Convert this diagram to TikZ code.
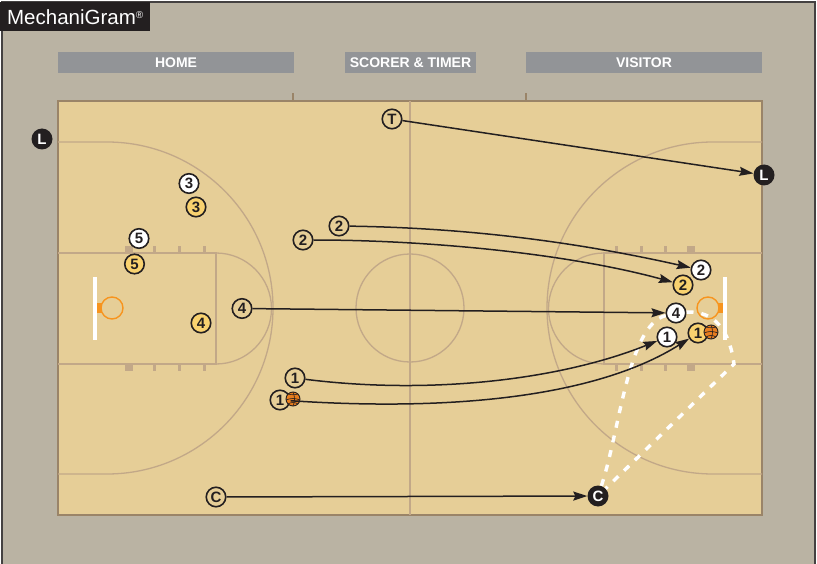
\documentclass[tikz,border=0pt]{standalone}
\usepackage{fontspec}
\setmainfont{Liberation Sans}
\usepackage{xcolor}
\usepackage{tikz}
\usetikzlibrary{arrows.meta}

\definecolor{surround}{HTML}{BAB3A3}
\definecolor{floorwood}{HTML}{E6CE97}
\definecolor{courtedge}{HTML}{9A8468}
\definecolor{courtline}{HTML}{C2A888}
\definecolor{headbar}{HTML}{929497}
\definecolor{rimorange}{HTML}{F7941E}
\definecolor{ballorange}{HTML}{E87D1E}
\definecolor{teamyellow}{HTML}{F9D26F}
\definecolor{inkdark}{HTML}{231F20}

\tikzset{
  playerbase/.style={circle, draw=inkdark, line width=1.6pt, inner sep=0pt, minimum size=19.5pt,
    text=inkdark, font=\fontsize{15}{15}\selectfont\bfseries},
  whiteplayer/.style={playerbase, fill=white},
  yellowplayer/.style={playerbase, fill=teamyellow},
  startplayer/.style={playerbase, fill=floorwood},
  official/.style={circle, fill=inkdark, inner sep=0pt, minimum size=21pt,
    text=white, font=\fontsize{15}{15}\selectfont\bfseries},
  headlabel/.style={fill=headbar, text=white, minimum height=21pt, inner sep=0pt,
    font=\fontsize{14}{14}\selectfont\bfseries},
  cline/.style={draw=courtline, line width=1.3pt},
  move/.style={draw=inkdark, line width=1.5pt, -{Stealth[length=14pt,width=9pt,inset=2pt]}},
  rotate path/.style={draw=white, line width=3.4pt, dash pattern=on 7pt off 8pt}
}

\begin{document}
\begin{tikzpicture}[x=1pt,y=-1pt]
  \useasboundingbox (0,0) rectangle (817,564);

  % surround and floor
  \draw[fill=surround, draw=inkdark!85, line width=1.2pt] (2,2) rectangle (815,570);
  \draw[fill=floorwood, draw=courtedge, line width=2.8pt] (58,101) rectangle (762,515);
  \draw[courtedge, line width=1.2pt] (293,93) -- (293,100);
  \draw[courtedge, line width=1.2pt] (526,93) -- (526,100);

  % logo and table labels
  \node[fill=inkdark, text=white, anchor=north west, minimum width=150pt, minimum height=29pt,
    inner sep=0pt, font=\fontsize{20.5}{20}\selectfont] (logo) at (0,2) {MechaniGram{\raisebox{6pt}{\fontsize{10}{10}\selectfont ®}}};
  \node[headlabel, minimum width=236pt] (home) at (176,62.5) {HOME};
  \node[headlabel, minimum width=131pt] (scorer) at (410.5,62.5) {SCORER \& TIMER};
  \node[headlabel, minimum width=236pt] (visitor) at (644,62.5) {VISITOR};

  % court lines
  \draw[cline] (410,101) -- (410,515);
  \draw[cline] (410,308) circle (54);
  \draw[cline] (58,253) -- (216,253) -- (216,364) -- (58,364);
  \draw[cline] (762,253) -- (604,253) -- (604,364) -- (762,364);
  \draw[cline] (216,253) arc (-90:90:55.5);
  \draw[cline] (604,253) arc (-90:-270:55.5);
  \draw[cline] (58,142) -- (107,142) arc (-90:90:166) -- (58,474);
  \draw[cline] (762,142) -- (713,142) arc (-90:-270:166) -- (762,474);

  % lane marks
  \foreach \x in {154,179,204,616.5,641,665.5}{
    \fill[courtline] (\x-1.5,246) rectangle (\x+1.5,253);
    \fill[courtline] (\x-1.5,364) rectangle (\x+1.5,371);
  }
  \foreach \x in {129,691}{
    \fill[courtline] (\x-4,246) rectangle (\x+4,253);
    \fill[courtline] (\x-4,364) rectangle (\x+4,371);
  }

  % baskets
  \fill[white] (93,277) rectangle (97,340);
  \fill[rimorange] (97,303) rectangle (102,313);
  \draw[rimorange, line width=1.4pt] (112,308) circle (11);
  \fill[white] (723,277) rectangle (727,340);
  \fill[rimorange] (718,303) rectangle (723,313);
  \draw[rimorange, line width=1.4pt] (708,308) circle (11);

  % officials
  \node[official] (leadstart) at (42,139) {L};
  \node[official] (leadend) at (764,175) {L};
  \node[official] (centerend) at (598,496) {C};
  \node[startplayer] (trail) at (392,119) {T};
  \node[startplayer] (centerstart) at (216,497) {C};

  % players
  \node[whiteplayer] (whitethree) at (189,183.5) {3};
  \node[yellowplayer] (yellowthree) at (196,207) {3};
  \node[whiteplayer] (whitefive) at (139,238.5) {5};
  \node[yellowplayer] (yellowfive) at (134.5,264) {5};
  \node[yellowplayer] (yellowfour) at (201,323) {4};
  \node[startplayer] (twoa) at (339,226) {2};
  \node[startplayer] (twob) at (303,240) {2};
  \node[startplayer] (fourstart) at (242,308.5) {4};
  \node[startplayer] (onea) at (295,378) {1};
  \node[startplayer] (oneb) at (280,400) {1};
  \node[whiteplayer] (whitetwo) at (701,270) {2};
  \node[yellowplayer] (yellowtwo) at (683,285) {2};
  \node[whiteplayer] (whitefour) at (676,313) {4};
  \node[whiteplayer] (whiteone) at (667,337) {1};
  \node[yellowplayer] (yellowone) at (698,333) {1};

  % balls
  \foreach \bx/\by in {293/399,711/332}{
    \draw[fill=ballorange, draw=inkdark, line width=0.9pt] (\bx,\by) circle (7);
    \draw[inkdark, line width=0.6pt] (\bx-7,\by+1) .. controls (\bx-2,\by-1) and (\bx+2,\by-1) .. (\bx+7,\by+1);
    \draw[inkdark, line width=0.6pt] (\bx-5,\by-5) .. controls (\bx-2,\by-4) and (\bx+2,\by-4) .. (\bx+5,\by-5);
    \draw[inkdark, line width=0.6pt] (\bx-5,\by+5) .. controls (\bx-2,\by+3) and (\bx+2,\by+3) .. (\bx+5,\by+5);
    \draw[inkdark, line width=0.6pt] (\bx,\by-7) .. controls (\bx+2,\by-3) and (\bx+2,\by+3) .. (\bx,\by+7);
  }

  % rotation of the center
  \coordinate (corner) at (734,364);
  \draw[rotate path] (centerend) .. controls (620,430) and (628,325) .. (whitefour);
  \draw[rotate path] (whitefour) .. controls (715,310) and (730,332) .. (corner) -- (centerend);

  % movements
  \draw[move] (trail) -- (leadend);
  \draw[move] (centerstart) -- (centerend);
  \draw[move] (fourstart) -- (whitefour);
  \draw[move] (twoa) .. controls (480,228) and (590,245) .. (whitetwo);
  \draw[move] (twob) .. controls (430,240) and (570,254) .. (yellowtwo);
  \draw[move] (onea) .. controls (430,395) and (560,380) .. (whiteone);
  \draw[move] (oneb) .. controls (460,412) and (600,395) .. (yellowone);

\end{tikzpicture}
\end{document}
